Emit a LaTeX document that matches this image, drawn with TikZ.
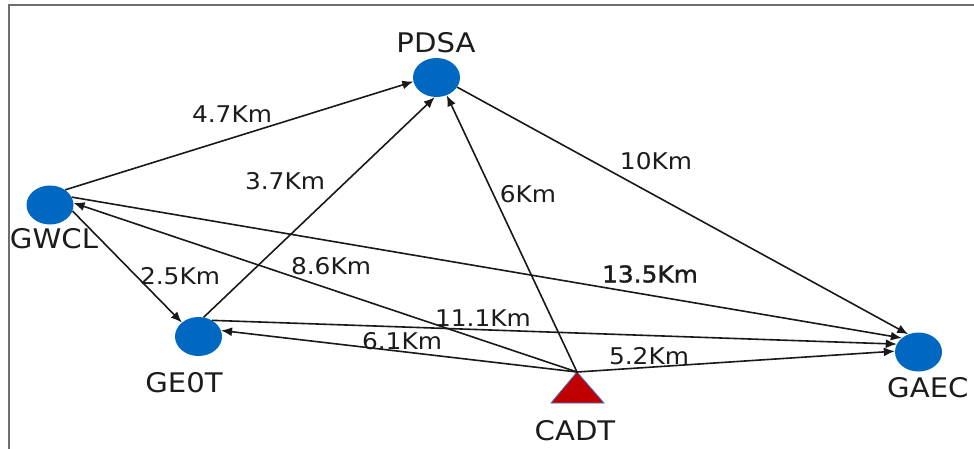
\documentclass[tikz,border=0pt]{standalone}
\usepackage{fontspec}
\usepackage{graphicx}
\setmainfont{DejaVu Sans}
\newfontfamily\heavylabel{DejaVu Sans}[FakeBold=1.5]
\usetikzlibrary{arrows.meta,shapes.geometric}
\definecolor{siteblue}{RGB}{0,104,192}
\definecolor{cadtred}{RGB}{192,0,0}
\definecolor{triedge}{RGB}{68,114,196}
\definecolor{textgray}{RGB}{28,28,28}
\definecolor{framegray}{RGB}{110,110,110}
\newcommand\wide[1]{\scalebox{1.08}[1]{#1}}
\begin{document}
\begin{tikzpicture}[x=1pt,y=-1pt,
  site/.style={ellipse, fill=siteblue, minimum width=47pt, minimum height=39pt, inner sep=0pt},
  sitename/.style={font=\fontsize{27}{30}\selectfont, text=textgray, inner sep=0pt},
  dist/.style={font=\fontsize{23}{26}\selectfont, text=textgray, inner sep=0pt},
  link/.style={draw=black!90, line width=1.6pt, -{Latex[length=11pt,width=9pt]}},
]
\useasboundingbox (0,0) rectangle (974,448);
\clip (0,0) rectangle (974,448);
\fill[white] (0,0) rectangle (974,448);
% frame
\draw[framegray, line width=2pt] (9,449) -- (9,5) -- (976,5);

% sites
\node[site] (PDSA) at (436.5,77.5) {};
\node[site] (GWCL) at (50,205) {};
\node[site] (GEOT) at (198.5,336.5) {};
\node[site] (GAEC) at (918.5,352) {};
\coordinate (CADT) at (577,372);
\filldraw[fill=cadtred, draw=triedge, line width=0.8pt] (CADT) -- (604,403) -- (551,403) -- cycle;

% connections
\draw[link] (GWCL.45) -- (PDSA.190);
\draw[link] (GEOT.75) -- (PDSA.-95);
\draw[link] (CADT) -- (PDSA.-60);
\draw[link] (PDSA.-25) -- (GAEC.120);
\draw[link] (GWCL.-15) -- (GEOT.140);
\draw[link] (CADT) -- (GWCL.5);
\draw[link] (GWCL.20) -- (GAEC.140);
\draw[link] (GEOT.50) -- (GAEC.160);
\draw[link] (CADT) -- (GEOT.15);
\draw[link] (CADT) -- (GAEC.178);

% site names
\node[sitename] (PDSA-name) at (436,43) {\wide{PDSA}};
\node[sitename] (GWCL-name) at (54,239) {\wide{GWCL}};
\node[sitename] (GEOT-name) at (184,383) {\wide{GE0T}};
\node[sitename] (CADT-name) at (575,431) {\wide{CADT}};
\node[sitename, anchor=west] (GAEC-name) at (887,388) {\wide{GAEC}};

% distances
\node[dist] (d47) at (232,114) {\wide{4.7Km}};
\node[dist] (d37) at (285,181) {\wide{3.7Km}};
\node[dist] (d6) at (528,194) {\wide{6Km}};
\node[dist] (d10) at (656,161) {\wide{10Km}};
\node[dist] (d25) at (180,276) {\wide{2.5Km}};
\node[dist] (d86) at (331,266) {\wide{8.6Km}};
\node[dist] (d135) at (650,274) {\wide{\heavylabel 13.5Km}};
\node[dist] (d111) at (483,318) {\wide{11.1Km}};
\node[dist] (d61) at (402,341) {\wide{6.1Km}};
\node[dist] (d52) at (649,356) {\wide{5.2Km}};
\end{tikzpicture}
\end{document}
